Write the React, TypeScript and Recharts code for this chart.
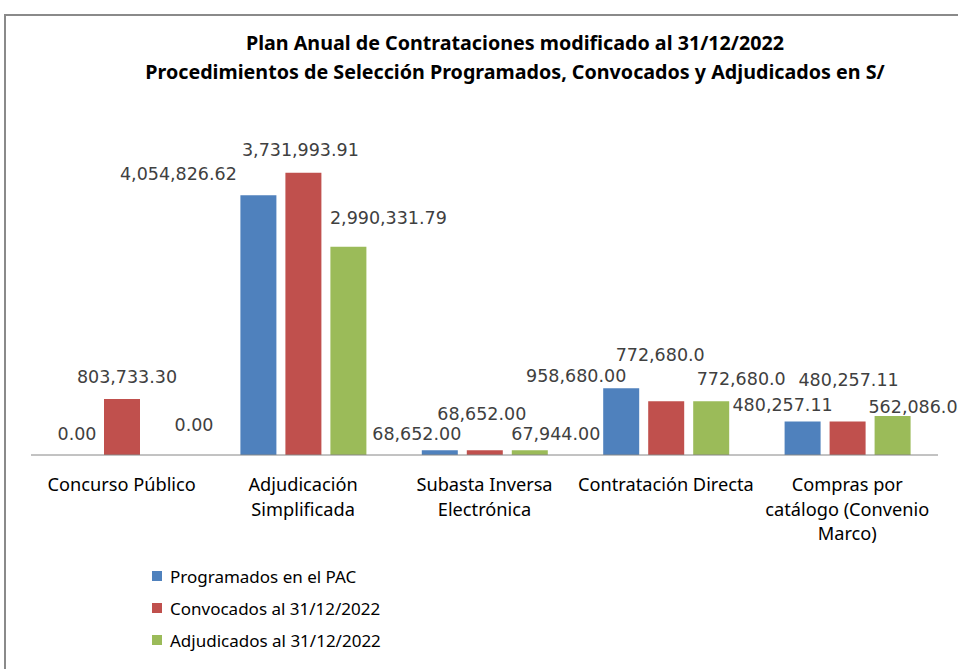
import { Bar, BarChart, Cell, LabelList, XAxis, YAxis } from 'recharts';

const categories = ['Concurso Público', 'Adjudicación Simplificada', 'Subasta Inversa Electrónica', 'Contratación Directa', 'Compras por catálogo (Convenio Marco)'];
const categoryLines = [
  ['Concurso Público'],
  ['Adjudicación', 'Simplificada'],
  ['Subasta Inversa', 'Electrónica'],
  ['Contratación Directa'],
  ['Compras por', 'catálogo (Convenio', 'Marco)'],
];

const programados = [0, 3731993.91, 68652, 958680, 480257.11];
const convocados = [803733.3, 4054826.62, 68652, 772680, 480257.11];
const adjudicados = [0, 2990331.79, 67944, 772680, 562086.04];

// label texts as printed on the chart
const programadosLabels = ['0.00', '4,054,826.62', '68,652.00', '958,680.00', '480,257.11'];
const convocadosLabels = ['803,733.30', '3,731,993.91', '68,652.00', '772,680.0', '480,257.11'];
const adjudicadosLabels = ['0.00', '2,990,331.79', '67,944.00', '772,680.0', '562,086.04'];

const seriesNames = ['Programados en el PAC', 'Convocados al 31/12/2022', 'Adjudicados al 31/12/2022'];
const COLORS = ['#4f81bd', '#c0504d', '#9bbb59'];

// manual label placement (offsets from bar top centre), like the moved Excel labels
const labelOffsets: [number, number][][] = [
  [[0, -21], [-80, -21], [-23, -16], [-45, -12], [-20, -17]],
  [[5, -22], [-3, -23], [-3, -36], [-6, -46], [1, -42]],
  [[27, -30], [40, -29], [26, -16], [30, -22], [26, -9]],
];

const data = categories.map((c, i) => ({
  name: c,
  programados: programados[i],
  convocados: convocados[i],
  adjudicados: adjudicados[i],
}));

const NARROW = "'Liberation Sans Narrow', 'Noto Sans', sans-serif";

function makeLabel(texts: string[], offsets: [number, number][]) {
  return (props: any) => {
    const { x, y, width, height, index } = props;
    const [dx, dy] = offsets[index];
    // zero bars are drawn 1px tall, measure from the baseline
    const top = Number(y) + (Number(height) < 2 ? Number(height) : 0);
    return (
      <text
        x={Number(x) + Number(width) / 2 + dx}
        y={top + dy}
        textAnchor="middle"
        dominantBaseline="central"
        fontFamily="'DejaVu Sans', Verdana, sans-serif"
        fontSize={17.5}
        fill="#404040"
      >
        {texts[index]}
      </text>
    );
  };
}

function CategoryTick(props: any) {
  const { x, y, payload } = props;
  const lines = categoryLines[payload.index] ?? [payload.value];
  return (
    <g>
      {lines.map((l, k) => (
        <text key={k} x={x} y={y + 21 + k * 24.5} textAnchor="middle" dominantBaseline="central" fontFamily={NARROW} fontSize={18.2} fill="#000">
          {l}
        </text>
      ))}
    </g>
  );
}

const series = [
  { key: 'programados', values: programados, labels: programadosLabels },
  { key: 'convocados', values: convocados, labels: convocadosLabels },
  { key: 'adjudicados', values: adjudicados, labels: adjudicadosLabels },
];

export default function App() {
  return (
    <div style={{ position: 'absolute', left: 0, top: 0, width: 958, height: 669, background: '#fff', overflow: 'hidden' }}>
      <div style={{ position: 'absolute', left: 4, top: 14, width: 1000, height: 700, borderLeft: '2px solid #8a8a8a', borderTop: '2px solid #8a8a8a' }} />
      <div style={{ position: 'absolute', left: 0, width: 1030, top: 28, textAlign: 'center', fontFamily: NARROW, fontWeight: 700, fontSize: 19.7, lineHeight: '29px', color: '#000' }}>
        <div>Plan Anual de Contrataciones modificado al 31/12/2022</div>
        <div>Procedimientos de Selección Programados, Convocados y Adjudicados en S/</div>
      </div>
      <div style={{ position: 'absolute' }}>
        <BarChart width={958} height={669} data={data} margin={{ top: 107, right: 20, bottom: 184, left: 31 }} barSize={36} barGap={9}>
          <XAxis dataKey="name" height={30} tickLine={false} axisLine={{ stroke: '#868686' }} tick={<CategoryTick />} interval={0} />
          <YAxis hide domain={[0, 5000000]} />
          {series.map((s, si) => (
            <Bar key={s.key} dataKey={s.key} name={seriesNames[si]} fill={COLORS[si]} minPointSize={1} isAnimationActive={false}>
              {s.values.map((v, i) => (
                <Cell key={i} fill={v === 0 ? 'none' : COLORS[si]} />
              ))}
              <LabelList dataKey={s.key} content={makeLabel(s.labels, labelOffsets[si])} />
            </Bar>
          ))}
        </BarChart>
      </div>
      <div style={{ position: 'absolute', left: 152, top: 560, fontFamily: NARROW, fontSize: 17, color: '#000' }}>
        {seriesNames.map((n, i) => (
          <div key={n} style={{ display: 'flex', alignItems: 'center', height: 32 }}>
            <span style={{ display: 'inline-block', width: 10, height: 10, background: COLORS[i], marginRight: 8 }} />
            {n}
          </div>
        ))}
      </div>
    </div>
  );
}
